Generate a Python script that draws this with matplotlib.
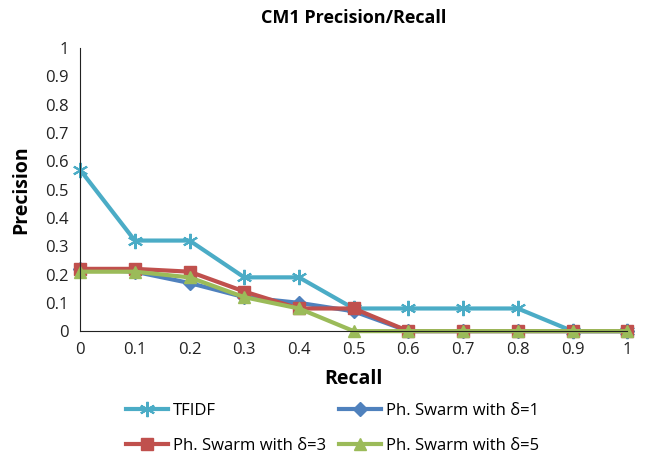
import matplotlib.pyplot as plt

# precision/recall curves for CM1
recall = [0, 0.1, 0.2, 0.3, 0.4, 0.5, 0.6, 0.7, 0.8, 0.9, 1]
tfidf = [0.57, 0.32, 0.32, 0.19, 0.19, 0.08, 0.08, 0.08, 0.08, 0, 0]
swarm_d1 = [0.22, 0.21, 0.17, 0.12, 0.10, 0.07, 0, 0, 0, 0, 0]
swarm_d3 = [0.22, 0.22, 0.21, 0.14, 0.08, 0.08, 0, 0, 0, 0, 0]
swarm_d5 = [0.21, 0.21, 0.19, 0.12, 0.08, 0, 0, 0, 0, 0, 0]
y_ticks = [0, 0.1, 0.2, 0.3, 0.4, 0.5, 0.6, 0.7, 0.8, 0.9, 1]

plt.rcParams['font.family'] = ['Open Sans', 'DejaVu Sans']

fig = plt.figure(figsize=(6.46, 4.58), dpi=100)
ax = fig.add_axes([0.124, 0.277, 0.847, 0.618])

l0, = ax.plot(recall, tfidf, color='#4bacc6', lw=3, marker=(6, 2, 0), ms=11, mew=1.5, label='TFIDF')
l1, = ax.plot(recall, swarm_d1, color='#4f81bd', lw=3, marker='D', ms=7, label='Ph. Swarm with δ=1')
l3, = ax.plot(recall, swarm_d3, color='#c0504d', lw=3, marker='s', ms=9, label='Ph. Swarm with δ=3')
l5, = ax.plot(recall, swarm_d5, color='#9bbb59', lw=3, marker='^', ms=9, label='Ph. Swarm with δ=5')

ax.set_xlim(0, 1)
ax.set_ylim(0, 1)
ax.set_xticks(recall)
ax.set_xticklabels(['%g' % v for v in recall])
ax.set_yticks(y_ticks)
ax.set_yticklabels(['%g' % v for v in y_ticks])
ax.tick_params(labelsize=12, length=0, pad=8, colors='#222222')
for s in ['top', 'right']:
    ax.spines[s].set_visible(False)
for s in ['left', 'bottom']:
    ax.spines[s].set_color('#222222')
for p in ax.get_lines():
    p.set_clip_on(False)

ax.set_title('CM1 Precision/Recall', fontsize=13, fontweight='bold', pad=18)
ax.set_xlabel('Recall', fontsize=14, fontweight='bold', labelpad=8)
ax.set_ylabel('Precision', fontsize=14, fontweight='bold', labelpad=10)

# legend rows: TFIDF / d=1 on top, d=3 / d=5 below
handles = [l0, l3, l1, l5]
fig.legend(handles, [h.get_label() for h in handles], loc='upper left',
           bbox_to_anchor=(0.195, 0.12), ncol=2, frameon=False, fontsize=12,
           handlelength=2.5, columnspacing=0.8, handletextpad=0.3, labelspacing=1.15,
           borderpad=0, borderaxespad=0)

fig.savefig('out.png', dpi=100)
